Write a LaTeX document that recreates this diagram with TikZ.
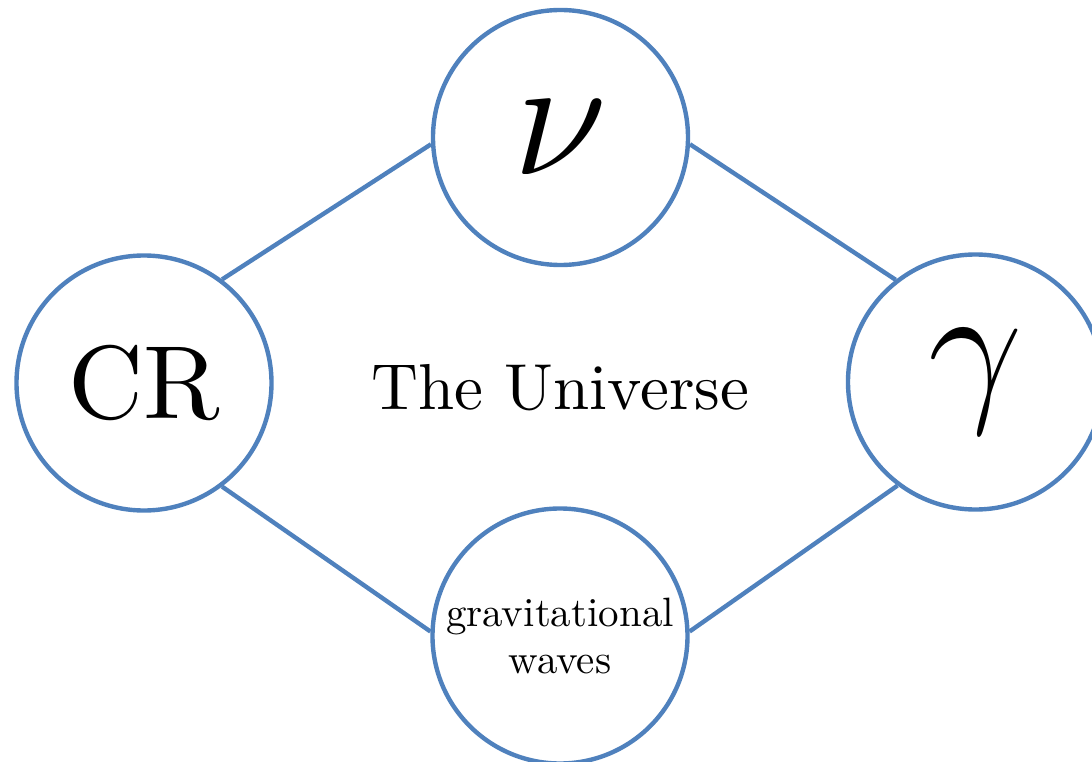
\RequirePackage{fix-cm}
\documentclass[tikz,border=0pt]{standalone}
\usepackage{fontspec}
\setmainfont{lmroman10-regular.otf}
\definecolor{obl}{RGB}{79,129,189}
\tikzset{
  ball/.style={circle, draw=obl, line width=4.4pt, fill=white, minimum size=255pt, inner sep=0pt, align=center},
  link/.style={draw=obl, line width=4.4pt}
}
\begin{document}
\begin{tikzpicture}[x=1pt,y=-1pt]
\useasboundingbox (0,0) rectangle (1092,762);
\clip (0,0) rectangle (1092,762);
\node[ball, font=\fontsize{172}{172}\selectfont] (nu) at (560.5,137.5) {$\nu$};
\node[ball, font=\fontsize{104}{104}\selectfont] (cr) at (144,383) {CR};
\node[ball, font=\fontsize{168}{168}\selectfont] (gam) at (975.5,382) {$\gamma$};
\node[ball, font=\fontsize{41}{47}\selectfont] (gw) at (560,636) {gravitational\\waves};
\node[font=\fontsize{65}{65}\selectfont] (uni) at (560,388) {The Universe};
\draw[link] (cr.53) -- (nu.183);
\draw[link] (nu.-3) -- (gam.128);
\draw[link] (cr.-53.5) -- (gw.178);
\draw[link] (gw.2) -- (gam.233.5);
\end{tikzpicture}
\end{document}
